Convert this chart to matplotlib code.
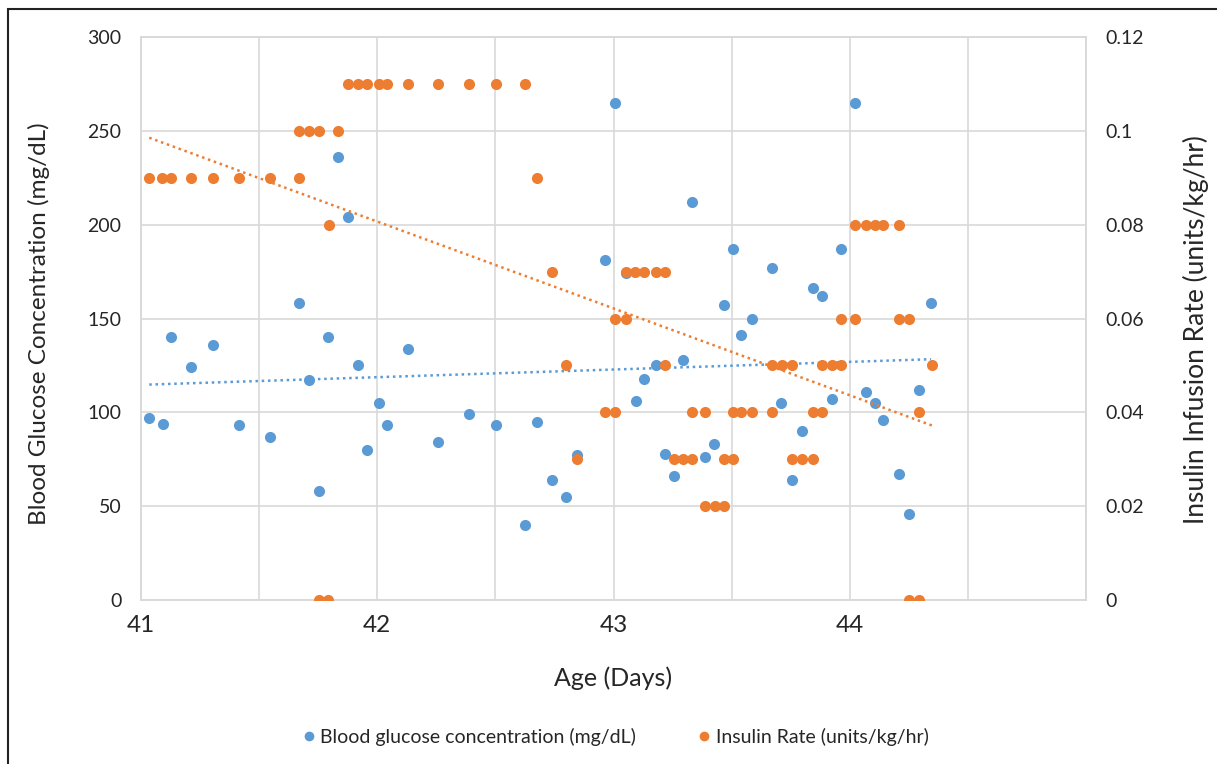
import matplotlib.pyplot as plt
from matplotlib.patches import Rectangle
from matplotlib.lines import Line2D
import numpy as np

plt.rcParams['font.family'] = ['Lato', 'DejaVu Sans']

# ---- data ----
# age in days for the blood glucose readings
bg_day = [41.035, 41.092, 41.126, 41.213, 41.305, 41.414, 41.547, 41.669, 41.711, 41.753,
          41.790, 41.834, 41.875, 41.917, 41.957, 42.007, 42.043, 42.130, 42.257, 42.390,
          42.501, 42.627, 42.675, 42.741, 42.798, 42.847, 42.964, 43.005, 43.053, 43.094,
          43.130, 43.180, 43.218, 43.255, 43.294, 43.332, 43.389, 43.427, 43.469, 43.506,
          43.538, 43.585, 43.671, 43.710, 43.756, 43.797, 43.844, 43.881, 43.924, 43.962,
          44.022, 44.067, 44.107, 44.141, 44.208, 44.252, 44.293, 44.344]
bg_val = [97, 94, 140, 124, 136, 93, 87, 158, 117, 58,
          140, 236, 204, 125, 80, 105, 93, 134, 84, 99,
          93, 40, 95, 64, 55, 77, 181, 265, 174, 106,
          118, 125, 78, 66, 128, 212, 76, 83, 157, 187,
          141, 150, 177, 105, 64, 90, 166, 162, 107, 187,
          265, 111, 105, 96, 67, 46, 112, 158]

# insulin infusion rate (two values at the same time = rate change)
ins_day = [41.035, 41.090, 41.126, 41.212, 41.305, 41.414, 41.547, 41.669, 41.669, 41.711,
           41.753, 41.753, 41.790, 41.795, 41.834, 41.875, 41.917, 41.957, 42.007, 42.043,
           42.130, 42.257, 42.390, 42.501, 42.627, 42.675, 42.741, 42.798, 42.847, 42.964,
           43.005, 43.005, 43.053, 43.053, 43.092, 43.130, 43.180, 43.220, 43.220, 43.255,
           43.295, 43.333, 43.333, 43.389, 43.389, 43.428, 43.469, 43.469, 43.507, 43.507,
           43.538, 43.585, 43.671, 43.671, 43.712, 43.757, 43.757, 43.797, 43.844, 43.844,
           43.882, 43.882, 43.924, 43.963, 43.963, 44.022, 44.022, 44.067, 44.106, 44.142,
           44.210, 44.210, 44.252, 44.252, 44.294, 44.294, 44.348]
ins_val = [0.09, 0.09, 0.09, 0.09, 0.09, 0.09, 0.09, 0.09, 0.10, 0.10,
           0.10, 0.00, 0.00, 0.08, 0.10, 0.11, 0.11, 0.11, 0.11, 0.11,
           0.11, 0.11, 0.11, 0.11, 0.11, 0.09, 0.07, 0.05, 0.03, 0.04,
           0.04, 0.06, 0.06, 0.07, 0.07, 0.07, 0.07, 0.07, 0.05, 0.03,
           0.03, 0.03, 0.04, 0.04, 0.02, 0.02, 0.02, 0.03, 0.03, 0.04,
           0.04, 0.04, 0.04, 0.05, 0.05, 0.05, 0.03, 0.03, 0.03, 0.04,
           0.04, 0.05, 0.05, 0.05, 0.06, 0.06, 0.08, 0.08, 0.08, 0.08,
           0.08, 0.06, 0.06, 0.00, 0.00, 0.04, 0.05]

x_labels = ['41', '42', '43', '44']
bg_label = 'Blood glucose concentration (mg/dL)'
ins_label = 'Insulin Rate (units/kg/hr)'

blue = '#5B9BD5'
orange = '#ED7D31'
grid = '#D9D9D9'
txt = '#262626'

fig = plt.figure(figsize=(12.17, 7.64), dpi=100)
ax = fig.add_axes([141/1217, 1 - 600/764, 945/1217, 563/764])
ax2 = ax.twinx()

# blood glucose points + linear trend
ax.plot(bg_day, bg_val, 'o', ms=8, mew=0, color=blue, zorder=3)
k, d = np.polyfit(bg_day, bg_val, 1)
tx = np.array([min(bg_day), max(bg_day)])
ax.plot(tx, k*tx + d, color=blue, lw=1.8, dashes=(1, 1.5), zorder=4)

# insulin points + linear trend
ax2.plot(ins_day, ins_val, 'o', ms=8, mew=0, color=orange, zorder=3)
k2, d2 = np.polyfit(ins_day, ins_val, 1)
tx2 = np.array([min(ins_day), max(ins_day)])
ax2.plot(tx2, k2*tx2 + d2, color=orange, lw=1.8, dashes=(1, 1.5), zorder=4)

ax.set_xlim(41, 45)
ax.set_ylim(0, 300)
ax2.set_ylim(0, 0.12)

# gridlines every half day, labels on whole days only
ax.set_xticks(np.arange(41, 45.01, 0.5))
ax.set_xticklabels([x_labels[i // 2] if i % 2 == 0 and i // 2 < len(x_labels) else ''
                    for i in range(9)])
ax.set_yticks(np.arange(0, 301, 50))
ax2.set_yticks(np.arange(0, 0.121, 0.02))
ax2.set_yticklabels(['0', '0.02', '0.04', '0.06', '0.08', '0.1', '0.12'])

ax.grid(True, color=grid, lw=1.2)
ax.set_axisbelow(True)
for a in (ax, ax2):
    for s in a.spines.values():
        s.set_color(grid)
        s.set_linewidth(1.2)

ax.tick_params(axis='x', length=0, pad=11, labelsize=17.5, labelcolor=txt)
ax.tick_params(axis='y', length=0, pad=14, labelsize=14, labelcolor=txt)
ax2.tick_params(axis='y', length=0, pad=14, labelsize=14, labelcolor=txt)

ax.set_xlabel('Age (Days)', fontsize=18, color=txt, labelpad=22)
ax.set_ylabel('Blood Glucose Concentration (mg/dL)', fontsize=17.5, color=txt)
ax.yaxis.set_label_coords(-0.096, 0.49)
ax2.set_ylabel('Insulin Infusion Rate (units/kg/hr)', fontsize=19, color=txt)
ax2.yaxis.set_label_coords(1.1026, 0.48)

handles = [Line2D([], [], ls='none', marker='o', ms=7, mew=0, color=blue),
           Line2D([], [], ls='none', marker='o', ms=7, mew=0, color=orange)]
fig.legend(handles, [bg_label, ins_label], loc='center', ncol=2,
           bbox_to_anchor=(614/1217, 1 - 737/764), frameon=False, fontsize=14,
           handletextpad=0.1, columnspacing=3.0, handlelength=1.0,
           labelcolor=txt)

# chart frame (only left and top edges are visible)
fig.patches.append(Rectangle((8/1217, -0.1), 1.2, 1 - 9/764 + 0.1, fill=False,
                             edgecolor='#222222', lw=1.5, transform=fig.transFigure))

fig.savefig('out.png', dpi=100, facecolor='white')
